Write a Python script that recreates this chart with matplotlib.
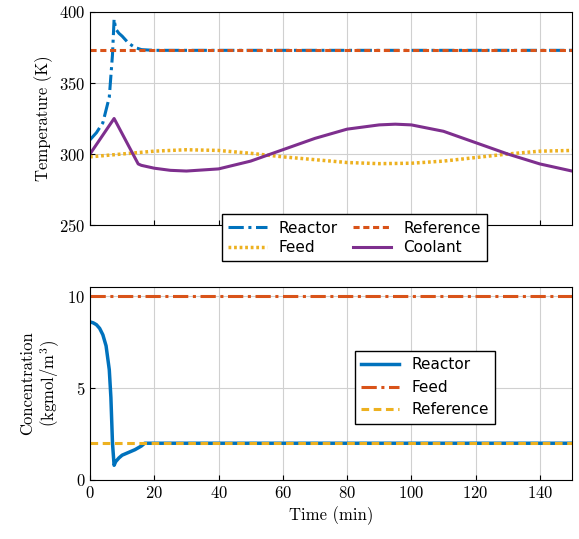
import numpy as np
import matplotlib.pyplot as plt

plt.rcParams['font.family'] = 'serif'
plt.rcParams['font.serif'] = ['cmr10', 'DejaVu Serif']
plt.rcParams['mathtext.fontset'] = 'cm'
plt.rcParams['axes.formatter.use_mathtext'] = True

blue = '#0072bd'
orange = '#d95319'
yellow = '#edb120'
purple = '#7e2f8e'

# temperatures (K)
t_reac = [0, 2, 4, 6, 7, 7.5, 8, 9, 10, 12, 14, 16, 20, 150]
T_reac = [310, 315, 322, 340, 370, 395, 388, 385, 383, 378, 375, 373.5, 373, 373]
t_ref = [0, 150]
T_ref = [373, 373]
t_feed = [0, 10, 20, 30, 40, 50, 60, 70, 80, 90, 100, 110, 120, 130, 140, 150]
T_feed = [298, 300, 302, 303, 302.5, 300.5, 298, 296, 294, 293.2, 293.5, 295, 297.5, 300, 302, 302.5]
t_cool = [0, 7.5, 15, 16, 20, 25, 30, 40, 50, 60, 70, 80, 90, 95, 100, 110, 120, 130, 140, 150]
T_cool = [300, 325, 293, 292, 290, 288.5, 288, 289.5, 295, 303, 311, 317.5, 320.5, 321, 320.5, 316, 308, 300, 293, 288]

# concentrations (kgmol/m^3)
t_ca = [0, 1, 2, 3, 4, 5, 6, 6.5, 7, 7.5, 8, 9, 10, 12, 14, 16, 17, 150]
c_ca = [8.6, 8.55, 8.45, 8.25, 7.9, 7.3, 6.0, 4.5, 2.0, 0.8, 1.0, 1.2, 1.35, 1.5, 1.65, 1.85, 2.0, 2.0]
t_cf = [0, 150]
c_cf = [10, 10]
t_cr = [0, 150]
c_cr = [2, 2]

fig = plt.figure(figsize=(5.79, 5.39), dpi=100)
ax1 = fig.add_axes([90/579, 1-225/539, 482/579, 213/539])
ax2 = fig.add_axes([90/579, 1-480/539, 482/579, 193/539])

h1, = ax1.plot(t_reac, T_reac, color=blue, lw=2.2, dashes=(5, 1.5, 1, 1.5), label='Reactor')
h2, = ax1.plot(t_ref, T_ref, color=orange, lw=2.2, dashes=(2, 1.2), label='Reference')
h3, = ax1.plot(t_feed, T_feed, color=yellow, lw=2.5, dashes=(0.8, 0.8), label='Feed')
h4, = ax1.plot(t_cool, T_cool, '-', color=purple, lw=2.2, label='Coolant')
ax1.set_xlim(0, 150)
ax1.set_ylim(250, 400)
ax1.set_yticks([250, 300, 350, 400])
ax1.set_xticks(range(0, 151, 20))
ax1.set_xticklabels([])
ax1.grid(True, color='#d0d0d0')
ax1.set_ylabel('Temperature (K)', fontsize=12)
ax1.tick_params(labelsize=12, direction='in')
ax1.legend([h1, h3, h2, h4], ['Reactor', 'Feed', 'Reference', 'Coolant'],
           ncol=2, loc='lower right', bbox_to_anchor=(0.824, -0.17), fancybox=False,
           edgecolor='black', handlelength=2.5, columnspacing=1.0, borderaxespad=0,
           labelspacing=0.3, framealpha=1, prop={'family': 'DejaVu Sans', 'size': 11})

ax2.plot(t_ca, c_ca, '-', color=blue, lw=2.5, label='Reactor')
ax2.plot(t_cf, c_cf, color=orange, lw=2.2, dashes=(5, 1.5, 1, 1.5), label='Feed')
ax2.plot(t_cr, c_cr, color=yellow, lw=2.2, dashes=(2.5, 1.5), label='Reference')
ax2.set_xlim(0, 150)
ax2.set_ylim(0, 10.5)
ax2.set_yticks([0, 5, 10])
ax2.set_xticks(range(0, 151, 20))
ax2.grid(True, color='#d0d0d0')
ax2.set_xlabel('Time (min)', fontsize=12)
ax2.set_ylabel('Concentration\n(kgmol/m$^3$)', fontsize=12)
ax2.tick_params(labelsize=12, direction='in')
ax2.legend(loc='center right', bbox_to_anchor=(0.84, 0.48), fancybox=False,
           edgecolor='black', handlelength=2.5, borderaxespad=0, framealpha=1,
           prop={'family': 'DejaVu Sans', 'size': 11})

fig.savefig('out.png', dpi=100)
